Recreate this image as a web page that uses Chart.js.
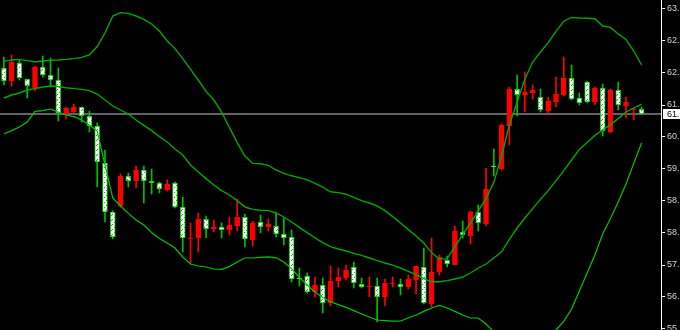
<!DOCTYPE html>
<html>
<head>
<meta charset="utf-8">
<script src="https://cdn.jsdelivr.net/npm/chart.js@4.4.1/dist/chart.umd.min.js"></script>
<style>
html,body{margin:0;padding:0;background:#000;overflow:hidden;}
canvas{display:block;background:#000;}
</style>
</head>
<body>
<canvas id="c" width="680" height="330"></canvas>
<script>
// ---- data ----
const open  = [62.225,61.90,62.35,61.95,61.725,62.25,62.05,61.925,61.075,61.125,61.25,61.025,60.775,59.85,58.625,58.775,59.525,59.40,59.675,59.40,59.35,59.175,59.35,58.75,57.95,57.975,58.45,58.20,58.25,58.175,58.275,58.50,57.925,58.375,58.25,58.275,58.075,58.00,56.975,57.025,56.625,56.80,56.35,56.90,56.975,57.25,56.825,56.75,56.775,56.50,56.825,56.825,56.75,56.925,57.25,56.325,57.125,57.425,57.30,58.125,58.025,58.625,58.325,59.775,59.70,60.775,61.70,61.55,61.60,61.50,61.15,61.375,61.55,61.975,61.475,61.875,61.375,61.725,60.625,61.675,61.275,61.175,61.20];
const high  = [62.50,62.55,62.425,61.95,62.275,62.525,62.475,62.225,61.25,61.325,61.25,61.15,60.85,60.175,58.65,59.575,59.60,59.775,59.775,59.70,59.375,59.425,59.375,59.00,58.35,58.60,58.525,58.425,58.35,58.50,58.95,58.575,58.40,58.55,58.45,58.625,58.475,58.175,57.225,57.10,57.00,56.975,57.275,57.225,57.30,57.375,56.975,57.00,56.975,56.95,57.00,56.95,57.05,57.275,57.725,57.975,57.55,57.525,58.275,58.40,58.65,58.80,59.725,60.20,60.825,61.75,62.05,62.125,61.80,61.70,61.50,62.00,62.50,62.30,61.60,61.90,61.75,61.825,61.70,61.875,61.50,61.225,61.25];
const low   = [61.80,61.775,61.925,61.475,61.65,62.00,61.75,60.90,60.95,61.10,60.875,60.625,59.25,58.375,57.95,58.75,59.25,59.225,58.85,59.075,59.10,59.15,58.725,57.625,57.35,57.625,57.975,58.125,57.975,58.05,58.15,57.75,57.775,58.10,58.15,58.00,57.80,56.875,56.775,56.60,56.50,56.10,56.275,56.75,56.925,56.725,56.725,56.50,55.875,56.275,56.75,56.55,56.70,56.575,56.325,56.25,57.05,57.25,57.30,57.975,57.825,58.15,58.275,59.525,59.675,60.30,61.025,61.125,61.45,61.125,61.10,61.25,61.525,61.425,61.30,61.35,61.30,60.525,60.60,61.175,60.975,60.925,61.075];
const close = [61.90,62.375,61.975,61.775,62.25,62.05,61.925,61.10,61.225,61.25,61.025,60.775,59.875,58.625,58.00,59.525,59.40,59.675,59.40,59.35,59.20,59.325,58.75,57.975,57.975,58.45,58.20,58.25,58.175,58.30,58.50,57.95,58.35,58.25,58.325,58.075,57.975,56.95,56.95,56.625,56.80,56.35,56.90,57.00,57.175,56.85,56.75,56.775,56.50,56.85,56.85,56.75,56.95,57.275,56.35,57.125,57.50,57.325,58.15,58.05,58.625,58.35,59.20,59.75,60.80,61.70,61.55,61.625,61.675,61.175,61.40,61.575,61.975,61.45,61.35,61.375,61.725,60.65,61.675,61.30,61.375,61.20,61.075];

const bbUpper  = [62.39,62.425,62.44,62.41,62.375,62.40,62.42,62.425,62.44,62.46,62.49,62.55,62.76,63.10,63.525,63.61,63.59,63.525,63.44,63.325,63.15,62.90,62.71,62.46,62.19,61.925,61.64,61.425,61.125,60.74,60.36,60.025,59.84,59.83,59.79,59.675,59.59,59.53,59.485,59.43,59.34,59.25,59.13,59.11,59.07,58.99,58.91,58.85,58.78,58.66,58.51,58.35,58.185,58.025,57.85,57.61,57.45,57.46,57.76,58.06,58.35,58.65,58.96,59.36,60.025,60.80,61.375,61.95,62.375,62.625,62.86,63.14,63.395,63.49,63.475,63.47,63.455,63.275,63.24,63.075,62.94,62.65,62.30];
const bbMiddle = [61.475,61.55,61.60,61.675,61.71,61.75,61.775,61.76,61.73,61.71,61.69,61.66,61.575,61.425,61.275,61.175,61.075,60.925,60.79,60.66,60.51,60.375,60.20,60.05,59.80,59.625,59.46,59.30,59.16,59.05,58.91,58.75,58.69,58.67,58.66,58.60,58.50,58.375,58.24,58.11,57.98,57.86,57.76,57.70,57.65,57.59,57.54,57.475,57.41,57.35,57.295,57.225,57.14,57.06,56.96,56.88,56.88,56.91,56.95,57.00,57.10,57.225,57.325,57.475,57.63,57.94,58.225,58.475,58.71,58.94,59.16,59.41,59.66,59.925,60.19,60.36,60.54,60.675,60.81,60.96,61.125,61.225,61.32];
const bbLower  = [60.575,60.66,60.75,60.875,61.14,61.16,61.20,61.125,61.05,61.01,60.925,60.80,60.65,59.80,58.975,58.775,58.59,58.425,58.30,58.11,57.96,57.85,57.725,57.50,57.325,57.275,57.25,57.20,57.19,57.26,57.375,57.475,57.475,57.49,57.505,57.48,57.375,57.21,56.99,56.80,56.625,56.49,56.38,56.31,56.24,56.16,56.075,56.00,55.925,55.91,55.895,55.90,55.975,56.05,56.14,56.225,56.29,56.225,56.14,56.05,55.975,55.975,55.825,55.625,55.275,55.075,55.075,55.00,55.05,55.25,55.46,55.675,55.89,56.20,56.65,57.10,57.55,58.075,58.46,58.875,59.325,59.84,60.35];

const yTicks      = [63.7,62.9,62.1,61.3,60.5,59.7,58.9,58.1,57.3,56.5,55.7];
const yTickLabels = ['63.70','62.90','62.10','61.30','60.50','59.70','58.90','58.10','57.30','56.50','55.70'];
const currentPrice = 61.075;
const currentLabel = '61.075';
const slotCount = 85; // bars + empty right margin
const categories = Array.from({length: slotCount}, (_, i) => String(i + 1));

// ---- styles ----
const RED = '#ff0000', GREEN = '#00c000', BAND = '#00a800';
const isUp = i => close[i] >= open[i];

const pc = document.createElement('canvas');
pc.width = 5; pc.height = 5;
const pg = pc.getContext('2d');
pg.fillStyle = '#ffffff'; pg.fillRect(0,0,5,5);
pg.fillStyle = GREEN;
[[1,0],[4,2],[2,4]].forEach(([x,y]) => pg.fillRect(x,y,1,1));
const ctx = document.getElementById('c').getContext('2d');
const whitePattern = ctx.createPattern(pc, 'repeat');

const priceLine = {
  id: 'priceLine',
  beforeDatasetsDraw(chart) {
    const {ctx, chartArea, scales} = chart;
    const y = Math.round(scales.y.getPixelForValue(currentPrice));
    ctx.save();
    ctx.strokeStyle = '#5f6367';
    ctx.lineWidth = 2;
    ctx.beginPath();
    ctx.moveTo(chartArea.left, y);
    ctx.lineTo(chartArea.right, y);
    ctx.stroke();
    ctx.restore();
  },
  afterDraw(chart) {
    const {ctx, chartArea, scales} = chart;
    const y = Math.round(scales.y.getPixelForValue(currentPrice));
    ctx.save();
    ctx.fillStyle = '#ffffff';
    ctx.fillRect(chartArea.right + 2, y - 5, 30, 10);
    ctx.fillStyle = '#000000';
    ctx.font = '9px "Liberation Sans"';
    ctx.textBaseline = 'middle';
    ctx.fillText(currentLabel, chartArea.right + 6, y + 0.5);
    ctx.restore();
  }
};

new Chart(ctx, {
  data: {
    labels: categories,
    datasets: [
      { type:'line', data: bbUpper,  borderColor: BAND, borderWidth: 1.4, pointRadius: 0, fill: false, order: 0 },
      { type:'line', data: bbMiddle, borderColor: BAND, borderWidth: 1.4, pointRadius: 0, fill: false, order: 0 },
      { type:'line', data: bbLower,  borderColor: '#00c800', borderWidth: 1.2, pointRadius: 0, fill: false, order: 0 },
      { type:'bar', data: open.map((o,i) => [o, close[i]]),
        backgroundColor: c => isUp(c.dataIndex) ? RED : whitePattern,
        borderColor: c => isUp(c.dataIndex) ? RED : GREEN,
        borderWidth: 1, borderSkipped: false, barThickness: 5, grouped: false, order: 1 },
      { type:'bar', data: low.map((l,i) => [l, high[i]]),
        backgroundColor: c => isUp(c.dataIndex) ? RED : GREEN,
        borderWidth: 0, barThickness: 1, grouped: false, order: 2 }
    ]
  },
  options: {
    responsive: false,
    devicePixelRatio: 1,
    animation: false,
    layout: { padding: 0, autoPadding: false },
    plugins: { legend: { display: false }, tooltip: { enabled: false } },
    scales: {
      x: { type: 'category', display: false, offset: true },
      y: {
        position: 'right',
        min: 55.675, max: 63.925,
        afterBuildTicks: s => { s.ticks = yTicks.map(v => ({ value: v })); },
        afterFit: s => { s.width = 19; s.paddingTop = 0; s.paddingBottom = 0; },
        ticks: {
          color: '#d4d4d4', autoSkip: false, padding: 2,
          font: { family: 'Liberation Sans', size: 9 },
          callback: (v, i) => yTickLabels[i]
        },
        grid: { drawOnChartArea: false, drawTicks: true, tickLength: 4, color: '#ffffff' },
        border: { display: true, color: '#ffffff', width: 1 }
      }
    }
  },
  plugins: [priceLine]
});
</script>
</body>
</html>
